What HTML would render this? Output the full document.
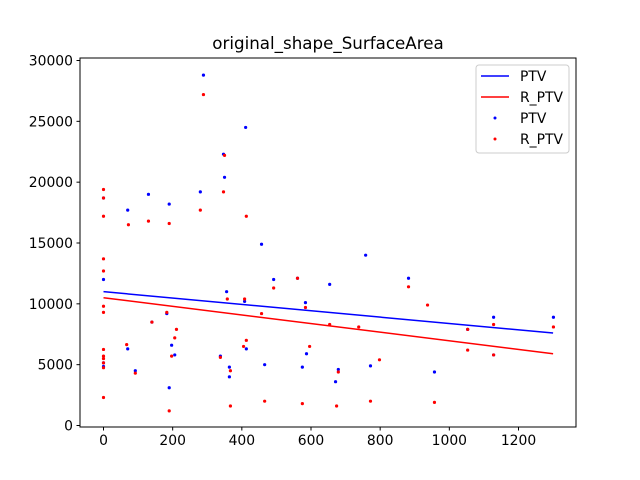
<!DOCTYPE html>
<html><head><meta charset="utf-8"><style>
body{margin:0;background:#fff;}
svg{display:block;font-family:"DejaVu Sans","Liberation Sans",sans-serif;}
</style></head><body>
<svg id="chart" width="640" height="480">
<rect width="640" height="480" fill="#fff"/>
<text x="328" y="49" text-anchor="middle" font-size="16.7">original_shape_SurfaceArea</text>
<g id="grid"></g>
<g id="marks"></g>
<rect x="80" y="58" width="496" height="369" fill="none" stroke="#000" stroke-width="1"/>
<g id="legend">
<rect x="476" y="65" width="93" height="88" rx="3" fill="#fff" stroke="#ccc"/>
<line x1="481" y1="76" x2="509" y2="76" stroke="#0000ff" stroke-width="1.5"/>
<text x="520" y="81" font-size="13.9">PTV</text>
<line x1="481" y1="97" x2="509" y2="97" stroke="#ff0000" stroke-width="1.5"/>
<text x="520" y="102" font-size="13.9">R_PTV</text>
<circle cx="495" cy="118" r="1.5" fill="#0000ff"/>
<text x="520" y="123" font-size="13.9">PTV</text>
<circle cx="495" cy="139" r="1.5" fill="#ff0000"/>
<text x="520" y="144" font-size="13.9">R_PTV</text>
</g>
</svg>
<script>
const xTicks=[0,200,400,600,800,1000,1200];
const yTicks=[0,5000,10000,15000,20000,25000,30000];
const ptvX=[0,0,0,0,70,70,92,130,140,183,190,190,197,206,280,289,338,347,350,356,364,364,408,411,413,457,466,492,561,575,584,587,654,671,679,758,772,882,957,1053,1128,1128,1301];
const ptvY=[18700,12000,4850,5150,17700,6300,4500,19000,8500,9200,18200,3100,6600,5800,19200,28800,5700,22300,20400,11000,4000,4800,10200,24500,6300,14900,5000,12000,12100,4800,10100,5900,11600,3600,4600,14000,4900,12100,4400,7900,8900,5800,8900];
const rptvX=[0,0,0,0,0,0,0,0,0,0,0,0,0,67,72,92,130,140,183,190,190,197,206,211,280,289,338,347,350,358,367,367,405,408,413,413,457,466,492,561,575,584,596,654,674,679,738,772,798,882,937,957,1053,1053,1128,1128,1301];
const rptvY=[19400,18700,17200,13700,12700,9800,9300,6250,5700,5500,5150,4750,2300,6650,16500,4300,16800,8500,9300,16600,1200,5700,7200,7900,17700,27200,5600,19200,22200,10400,4500,1600,6500,10400,17200,7000,9200,2000,11300,12100,1800,9700,6500,8300,1600,4400,8100,2000,5400,11400,9900,1900,7900,6200,8300,5800,8100];
const fitX=[0,1300];
const ptvFit=[11000,7600];
const rptvFit=[10500,5900];

const NS="http://www.w3.org/2000/svg";
const sx=v=>103.5+v*(518.5-103.5)/1200;
const sy=v=>425.5-v*(365/30000);
const grid=document.getElementById('grid'), marks=document.getElementById('marks');
function mk(tag,attrs,parent){const e=document.createElementNS(NS,tag);for(const k in attrs)e.setAttribute(k,attrs[k]);parent.appendChild(e);return e;}
xTicks.forEach(t=>{
  const l=mk('line',{x1:sx(t),x2:sx(t),y1:427,y2:430.5,stroke:'#000'},grid);
  
  
  const tx=mk('text',{x:sx(t),y:445,'text-anchor':'middle','font-size':'13.9'},grid);
  tx.textContent=t;
  
  
});
yTicks.forEach(t=>{
  const l=mk('line',{x1:76.5,x2:80,y1:sy(t),y2:sy(t),stroke:'#000'},grid);
  
  
  const tx=mk('text',{x:73,y:sy(t)+5,'text-anchor':'end','font-size':'13.9'},grid);
  tx.textContent=t;
  
  
});
function fit(ys,color,name){
  const l=mk('line',{x1:sx(fitX[0]),y1:sy(ys[0]),x2:sx(fitX[1]),y2:sy(ys[1]),stroke:color,'stroke-width':1.5},marks);
  
  
}
fit(ptvFit,'#0000ff','ptv-fit-line');
fit(rptvFit,'#ff0000','rptv-fit-line');
function pts(xs,ys,color,name){
  xs.forEach((x,i)=>{
    const c=mk('circle',{cx:sx(x),cy:sy(ys[i]),r:1.6,fill:color},marks);
    
    
  });
}
pts(ptvX,ptvY,'#0000ff','ptv-point');
pts(rptvX,rptvY,'#ff0000','rptv-point');
</script>
</body></html>
